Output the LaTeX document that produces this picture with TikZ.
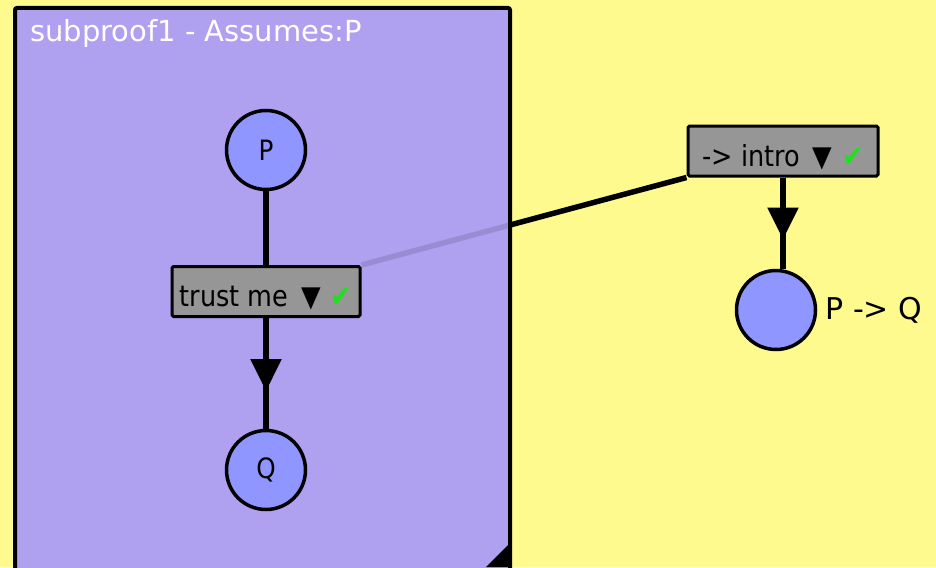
\documentclass[tikz,border=0pt]{standalone}
\usepackage{fontspec}
\setmainfont{DejaVu Sans}[FakeStretch=0.88]
\newfontfamily\widefont{DejaVu Sans}
\usetikzlibrary{arrows.meta,decorations.markings}
\definecolor{bgyellow}{RGB}{255,250,142}
\definecolor{subpurple}{RGB}{176,160,240}
\definecolor{nodeblue}{RGB}{144,150,255}
\definecolor{rulegray}{RGB}{150,150,150}
\definecolor{okgreen}{RGB}{30,225,30}
\pgfdeclarelayer{bg}
\pgfdeclarelayer{mid}
\pgfsetlayers{bg,mid,main}
\begin{document}
\begin{tikzpicture}[x=1pt,y=-1pt,
  stmt/.style={circle, draw=black, line width=3.5pt, fill=nodeblue, minimum size=79pt, inner sep=0pt, font=\fontsize{28}{30}\selectfont},
  rulebox/.style={rectangle, draw=black, line width=3pt, fill=rulegray, minimum height=50pt, inner xsep=6pt, inner ysep=2pt, text height=33pt, text depth=3pt, font=\fontsize{29}{30}\selectfont, rounded corners=1.5pt},
  link/.style={line width=5.5pt, draw=black},
  midarrow/.style={postaction={decorate}, decoration={markings, mark=at position #1 with {\arrow{Triangle[width=30pt,length=32pt]}}}},
  lbl/.style={font=\widefont\fontsize{30}{32}\selectfont, inner sep=0pt}
]
\useasboundingbox (0,0) rectangle (936,567);

% nodes
\node[stmt] (P) at (266,150) {P};
\node[rulebox, minimum width=188pt] (trust) at (266,291.5) {trust me\, ▼\,\,\textcolor{okgreen}{✔}};
\node[stmt] (Q) at (266,470) {Q};
\node[rulebox, minimum width=190pt] (intro) at (783,151) {-> intro\, ▼\,\,\textcolor{okgreen}{✔}};
\node[stmt] (PQ) at (776,310) {};
\node[lbl, anchor=west] (PQlbl) at ([xshift=8pt]PQ.east) {P -{}> Q};

\begin{pgfonlayer}{bg}
  \fill[bgyellow] (0,0) rectangle (936,567);
  \fill[subpurple] (15,8) rectangle (510,590);
  \draw[link] (trust.north east) -- (intro.south west);
\end{pgfonlayer}
\begin{pgfonlayer}{mid}
  \draw[line width=4pt, fill=subpurple, fill opacity=0.88, rounded corners=2pt] (15,8) rectangle (510,590);
  \fill[black] (511,542) -- (511,567) -- (486,567) -- cycle;
  \node[anchor=base west, text=white, font=\widefont\fontsize{29}{30}\selectfont, inner sep=0pt] (title) at (30,42) {subproof1 - Assumes:P};
\end{pgfonlayer}

% edges
\draw[link] (P) -- (trust);
\draw[link, midarrow=0.66] (trust) -- (Q);
\draw[link, midarrow=0.68] (intro.south) -- (intro.south |- PQ.north);
\end{tikzpicture}
\end{document}
